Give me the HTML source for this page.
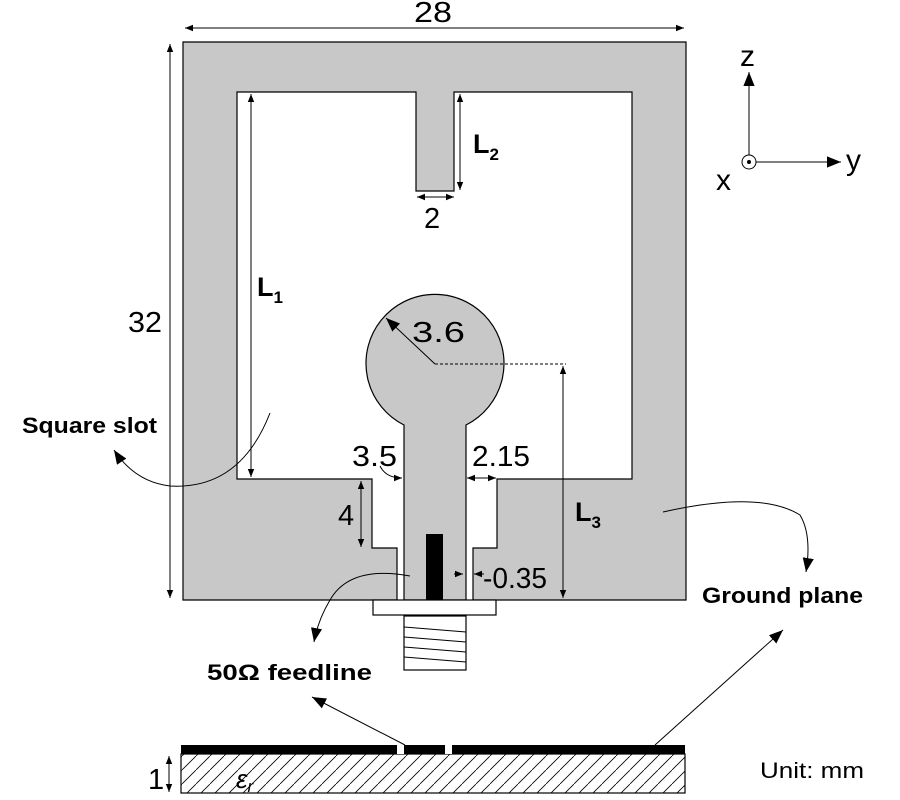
<!DOCTYPE html>
<html><head><style>body{margin:0;background:#fff}svg{display:block}text{font-family:"Liberation Sans",sans-serif;fill:#000}</style></head><body>
<svg width="900" height="800" viewBox="0 0 900 800" xmlns="http://www.w3.org/2000/svg">
<defs>
<marker id="a" viewBox="0 0 10 10" refX="10" refY="5" markerWidth="8" markerHeight="8" orient="auto-start-reverse"><path d="M0,1 L10,5 L0,9 z" fill="#000"/></marker>
<marker id="b" viewBox="0 0 10 10" refX="10" refY="5" markerWidth="14" markerHeight="14" orient="auto-start-reverse"><path d="M0,1 L10,5 L0,9 z" fill="#000"/></marker>
<pattern id="h" width="14" height="14" patternUnits="userSpaceOnUse"><path d="M-2,16 L16,-2" stroke="#000" stroke-width="0.8"/></pattern>
</defs>
<path d="M183,42 H686 V600 H473 V548 H497 V479 H632 V92 H454 V191 H416 V92 H237 V479 H372 V548 H397 V600 H183 Z" fill="#c8c8c8" stroke="#000" stroke-width="1.2"/>
<path d="M404,600 V425 A69,69 0 1 1 466,425 V600 Z" fill="#c8c8c8" stroke="#000" stroke-width="1.2"/>
<rect x="426" y="534" width="17" height="66" fill="#000"/>
<rect x="373" y="600" width="123" height="15" fill="#fff" stroke="#000" stroke-width="1.2"/>
<rect x="404" y="616" width="62" height="54" fill="#fff" stroke="#000" stroke-width="1.2"/>
<g stroke="#000" stroke-width="1"><line x1="404" y1="627" x2="466" y2="632"/><line x1="404" y1="637" x2="466" y2="642"/><line x1="404" y1="647" x2="466" y2="652"/><line x1="404" y1="657" x2="466" y2="662"/></g>
<g stroke="#000" stroke-width="1" fill="none">
<line x1="185" y1="28" x2="684" y2="28" marker-start="url(#a)" marker-end="url(#a)"/>
<line x1="170" y1="44" x2="170" y2="598" marker-start="url(#a)" marker-end="url(#a)"/>
<line x1="251" y1="94" x2="251" y2="477" marker-start="url(#a)" marker-end="url(#a)"/>
<line x1="460" y1="94" x2="460" y2="190" marker-start="url(#a)" marker-end="url(#a)"/>
<line x1="417" y1="197" x2="454" y2="197" marker-start="url(#a)" marker-end="url(#a)"/>
<line x1="435" y1="364" x2="386" y2="318" marker-end="url(#b)"/>
<line x1="435" y1="364" x2="566" y2="364" stroke-dasharray="3,2"/>
<line x1="563" y1="366" x2="563" y2="598" marker-start="url(#a)" marker-end="url(#a)"/>
<line x1="361" y1="481" x2="361" y2="547" marker-start="url(#a)" marker-end="url(#a)"/>
<path d="M380,466 Q386,478 402,478" marker-end="url(#a)"/>
<line x1="467" y1="478" x2="496" y2="478" marker-start="url(#a)" marker-end="url(#a)"/>
<line x1="454" y1="574" x2="463" y2="574" marker-end="url(#a)"/>
<line x1="484" y1="574" x2="474" y2="574" marker-end="url(#a)"/>
<path d="M270,413 Q240,490 170,486 Q135,482 114,450" marker-end="url(#b)"/>
<path d="M410,576 Q350,565 330,600 Q318,620 314,642" marker-end="url(#b)"/>
<path d="M663,512 Q760,490 800,515 Q812,535 806,572" marker-end="url(#b)"/>
<line x1="405" y1="745" x2="312" y2="697" marker-end="url(#b)"/>
<line x1="655" y1="745" x2="783" y2="630" marker-end="url(#b)"/>
<line x1="749" y1="155" x2="749" y2="72" marker-end="url(#b)"/>
<line x1="756" y1="162" x2="841" y2="162" marker-end="url(#b)"/>
<line x1="169" y1="756" x2="169" y2="792" marker-start="url(#a)" marker-end="url(#a)"/>
</g>
<circle cx="749" cy="162" r="7" fill="#fff" stroke="#000"/><circle cx="749" cy="162" r="2" fill="#000"/>
<rect x="181" y="754" width="504" height="39" fill="url(#h)" stroke="#000" stroke-width="1.2"/>
<rect x="181" y="745" width="504" height="9" fill="#000"/>
<rect x="397" y="745" width="7" height="9" fill="#fff"/>
<rect x="445" y="745" width="7" height="9" fill="#fff"/>
<g font-size="29">
<text x="414" y="22" textLength="38" lengthAdjust="spacingAndGlyphs">28</text>
<text x="128" y="332" textLength="34" lengthAdjust="spacingAndGlyphs">32</text>
<text x="257" y="296" font-weight="bold" font-size="27">L<tspan font-size="17" dy="7">1</tspan></text>
<text x="473" y="153" font-weight="bold" font-size="27">L<tspan font-size="17" dy="7">2</tspan></text>
<text x="575" y="521" font-weight="bold" font-size="27">L<tspan font-size="17" dy="7">3</tspan></text>
<text x="424" y="228">2</text>
<text x="412" y="342" textLength="53" lengthAdjust="spacingAndGlyphs">3.6</text>
<text x="352" y="466" textLength="45" lengthAdjust="spacingAndGlyphs">3.5</text>
<text x="472" y="466" textLength="58" lengthAdjust="spacingAndGlyphs">2.15</text>
<text x="338" y="525">4</text>
<text x="483" y="588" textLength="64" lengthAdjust="spacingAndGlyphs">-0.35</text>
<text x="740" y="66" font-size="30">z</text>
<text x="846" y="170" font-size="30">y</text>
<text x="716" y="190" font-size="30">x</text>
<text x="148" y="789">1</text>
<text x="236" y="788" font-family="Liberation Serif" font-style="italic" font-size="26">ε<tspan font-size="17" dy="4">r</tspan></text>
</g>
<g font-size="22" font-weight="bold">
<text x="22" y="433" textLength="135" lengthAdjust="spacingAndGlyphs">Square slot</text>
<text x="702" y="603" textLength="161" lengthAdjust="spacingAndGlyphs">Ground plane</text>
<text x="207" y="680" textLength="165" lengthAdjust="spacingAndGlyphs">50Ω feedline</text>
</g>
<text x="760" y="778" font-size="22" textLength="104" lengthAdjust="spacingAndGlyphs">Unit: mm</text>
</svg>
</body></html>
